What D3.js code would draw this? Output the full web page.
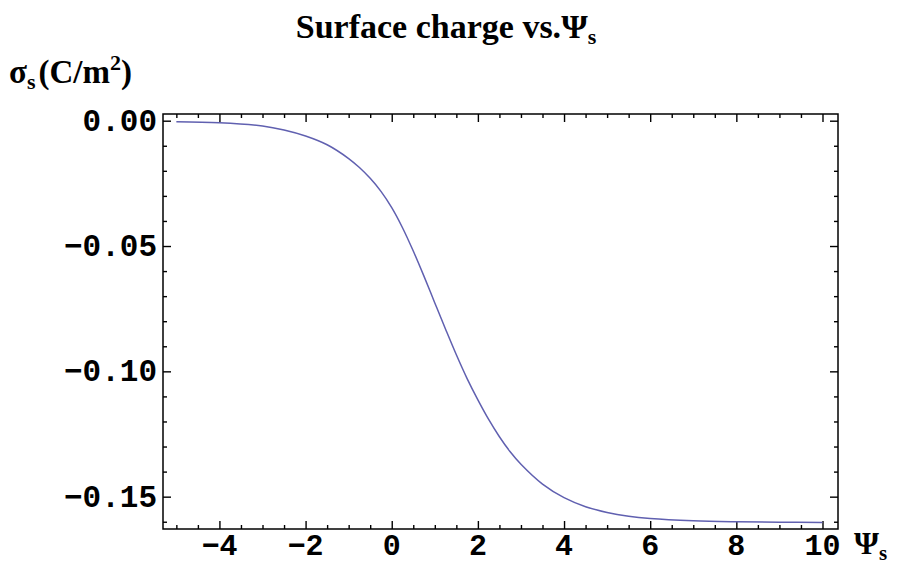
<!DOCTYPE html>
<meta charset="utf-8">
<script src="https://d3js.org/d3.v7.min.js"></script>
<style>
  body { margin: 0; background: #fff; }
</style>
<div id="chart"></div>
<script>

// values
var psi   = [-5, -4, -3, -2.5, -2, -1.5, -1, -0.75, -0.5, -0.25, 0, 0.25, 0.5, 0.75, 1, 1.25, 1.5, 1.75,
             2, 2.25, 2.5, 2.75, 3, 3.5, 4, 4.5, 5, 5.5, 6, 7, 8, 9, 10];
var sigma = [-0.0004, -0.0008, -0.0021, -0.0037, -0.0061, -0.0096, -0.0151, -0.0187, -0.0230, -0.0282,
             -0.0347, -0.0427, -0.0520, -0.0621, -0.0727, -0.0832, -0.0934, -0.1029, -0.1114, -0.1192,
             -0.1261, -0.1321, -0.1371, -0.1450, -0.1504, -0.1540, -0.1563, -0.1578, -0.1587, -0.1596,
             -0.1600, -0.1602, -0.1603];

var xMajor = [-4, -2, 0, 2, 4, 6, 8, 10];
var yMajor = [0, -0.05, -0.10, -0.15];

var margin = {top: 114, right: 59, bottom: 36, left: 163},
    width = 897 - margin.left - margin.right,
    height = 565 - margin.top - margin.bottom;

var svg = d3.select("#chart")
  .append("svg")
    .attr("width", 897)
    .attr("height", 565)

var g = svg.append("g")
    .attr("transform", "translate(" + margin.left + "," + margin.top + ")")

var x = d3.scaleLinear()
  .domain([-5.31, 10.36])
  .range([0, width])

var y = d3.scaleLinear()
  .domain([-0.1629, 0.00267])
  .range([height, 0])

var xMinor = d3.range(-5, 10.01, 0.5).filter(function(v) { return xMajor.indexOf(v) < 0 })
var yMinor = d3.range(-16, 1).map(function(v) { return v / 100 })
  .filter(function(v) { return yMajor.every(function(m) { return Math.abs(m - v) > 1e-9 }) })

// frame ticks, all pointing inward
function ticks(axis, vals, size, transform) {
  var a = g.append("g")
    .attr("transform", transform)
    .call(axis.tickValues(vals).tickSize(-size).tickFormat(""))
  a.select(".domain").remove()
  a.selectAll(".tick line").attr("stroke", "#000").attr("stroke-width", 1.4)
  return a
}
ticks(d3.axisBottom(x), xMajor, 8, "translate(0," + height + ")")
ticks(d3.axisBottom(x), xMinor, 4, "translate(0," + height + ")")
ticks(d3.axisTop(x), xMajor, 8, "translate(0,0)")
ticks(d3.axisTop(x), xMinor, 4, "translate(0,0)")
ticks(d3.axisLeft(y), yMajor, 8, "translate(0,0)")
ticks(d3.axisLeft(y), yMinor, 4, "translate(0,0)")
ticks(d3.axisRight(y), yMajor, 8, "translate(" + width + ",0)")
ticks(d3.axisRight(y), yMinor, 4, "translate(" + width + ",0)")

g.append("rect")
  .attr("width", width)
  .attr("height", height)
  .attr("fill", "none")
  .attr("stroke", "#000")
  .attr("stroke-width", 1.5)

// tick labels
var mono = "'Liberation Mono', 'DejaVu Sans Mono', monospace"

g.append("g").selectAll("text")
  .data(xMajor)
  .enter()
  .append("text")
    .attr("x", function(d) { return x(d) })
    .attr("y", height + 26)
    .attr("text-anchor", "middle")
    .style("font-family", mono)
    .style("font-weight", "bold")
    .style("font-size", "30px")
    .text(function(d) { return d < 0 ? "\u2212" + Math.abs(d) : d })

g.append("g").selectAll("text")
  .data(yMajor)
  .enter()
  .append("text")
    .attr("x", -6)
    .attr("y", function(d) { return y(d) + 10 })
    .attr("text-anchor", "end")
    .style("font-family", mono)
    .style("font-weight", "bold")
    .style("font-size", "31px")
    .text(function(d) { return d < 0 ? "\u2212" + Math.abs(d).toFixed(2) : d.toFixed(2) })

// the curve
var pts = psi.map(function(d, i) { return [d, sigma[i]] })
g.append("path")
  .datum(pts)
  .attr("fill", "none")
  .attr("stroke", "#6060b0")
  .attr("stroke-width", 1.5)
  .attr("d", d3.line()
    .x(function(d) { return x(d[0]) })
    .y(function(d) { return y(d[1]) })
    .curve(d3.curveCatmullRom))

// title and axis labels
var serif = "'Liberation Serif', 'DejaVu Serif', serif"

var title = svg.append("text")
  .attr("x", 446)
  .attr("y", 38)
  .attr("text-anchor", "middle")
  .style("font-family", serif)
  .style("font-weight", "bold")
  .style("font-size", "34px")
title.append("tspan").text("Surface charge vs.")
title.append("tspan").text("\u03A8")
title.append("tspan").attr("dy", 6).style("font-size", "22px").text("s")

var ylab = svg.append("text")
  .attr("x", 9)
  .attr("y", 83)
  .style("font-family", serif)
  .style("font-weight", "bold")
  .style("font-size", "33px")
ylab.append("tspan").text("\u03C3")
ylab.append("tspan").attr("dy", 6).style("font-size", "22px").text("s")
ylab.append("tspan").attr("dy", -6).attr("dx", 3).text("(C/m")
ylab.append("tspan").attr("dy", -13).style("font-size", "22px").text("2")
ylab.append("tspan").attr("dy", 13).text(")")

var xlab = svg.append("text")
  .attr("x", 854)
  .attr("y", 554)
  .style("font-family", serif)
  .style("font-weight", "bold")
  .style("font-size", "32px")
xlab.append("tspan").text("\u03A8")
xlab.append("tspan").attr("dy", 6).style("font-size", "21px").text("s")

</script>
